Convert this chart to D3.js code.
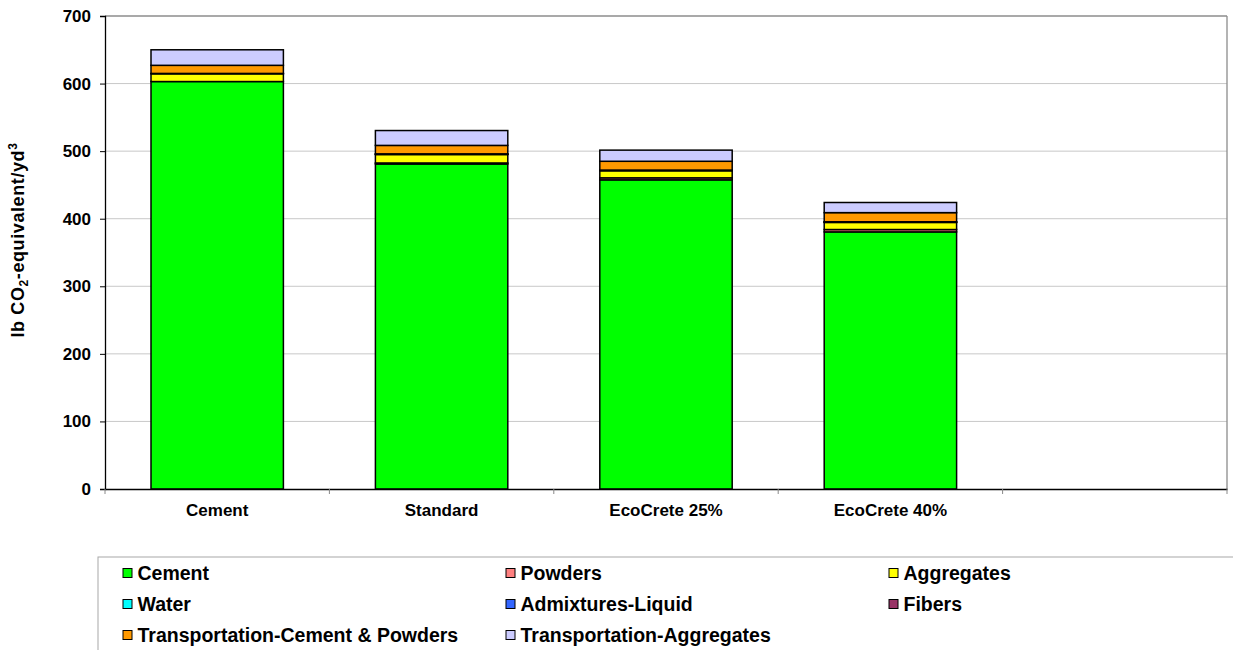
<!DOCTYPE html>
<html>
<head>
<meta charset="utf-8">
<script src="https://cdn.jsdelivr.net/npm/d3@7"></script>
<style>
  html, body { margin: 0; padding: 0; background: #fff; }
  svg { display: block; font-family: "Liberation Sans", Arial, sans-serif; font-weight: bold; }
</style>
</head>
<body>
<svg id="chart" width="1233" height="650"></svg>
<script>
// ---- data ----
const categories = ["Cement", "Standard", "EcoCrete 25%", "EcoCrete 40%", " "];
const seriesNames = ["Cement", "Powders", "Aggregates", "Water", "Admixtures-Liquid", "Fibers",
                     "Transportation-Cement & Powders", "Transportation-Aggregates"];
const seriesColors = ["#00FF00", "#FF8080", "#FFFF00", "#00FFFF", "#3366FF", "#993366", "#FF9900", "#CCCCFF"];
const cementVals      = [603, 481, 457.5, 380.5];
const powdersVals     = [0, 1.5, 3, 3.5];
const aggregatesVals  = [11.5, 12.5, 10.5, 10.5];
const waterVals       = [0.5, 0.5, 0.5, 0.5];
const admixturesVals  = [0, 0.5, 0.5, 0.5];
const fibersVals      = [0, 0, 0, 0];
const transCementVals = [12, 12.5, 13, 13.5];
const transAggVals    = [23, 22, 16.5, 15];
const yTicks = [0, 100, 200, 300, 400, 500, 600, 700];

const seriesValues = [cementVals, powdersVals, aggregatesVals, waterVals, admixturesVals,
                      fibersVals, transCementVals, transAggVals];

(function () {
// build table for stacking
const table = categories.slice(0, 4).map((c, i) => {
  const row = { cat: c };
  seriesNames.forEach((s, j) => row[s] = seriesValues[j][i]);
  return row;
});

// ---- layout ----
const svg = d3.select("#chart");
const pLeft = 105, pRight = 1227, pTop = 16, pBottom = 489;

const x = d3.scaleBand().domain(categories).range([pLeft, pRight]).paddingInner(0).paddingOuter(0);
const y = d3.scaleLinear().domain([0, 700]).range([pBottom, pTop]);
const barW = x.bandwidth() * 0.59;

// gridlines
svg.append("g").selectAll("line").data(yTicks.slice(1, -1)).join("line")
  .attr("x1", pLeft).attr("x2", pRight)
  .attr("y1", d => y(d)).attr("y2", d => y(d))
  .attr("stroke", "#c8c8c8").attr("stroke-width", 1);

// plot border (top, right gray)
svg.append("line").attr("x1", pLeft).attr("x2", pRight).attr("y1", y(700)).attr("y2", y(700))
  .attr("stroke", "#8c8c8c").attr("stroke-width", 1.3);
svg.append("line").attr("x1", pRight).attr("x2", pRight).attr("y1", y(700)).attr("y2", pBottom)
  .attr("stroke", "#8c8c8c").attr("stroke-width", 1.3);

// stacked bars
const stack = d3.stack().keys(seriesNames);
const stacked = stack(table);
const gBars = svg.append("g");
stacked.forEach((layer, j) => {
  gBars.append("g").selectAll("rect").data(layer).join("rect")
    .attr("x", d => x(d.data.cat) + (x.bandwidth() - barW) / 2)
    .attr("width", barW)
    .attr("y", d => y(d[1]))
    .attr("height", d => Math.max(0, y(d[0]) - y(d[1])))
    .attr("fill", seriesColors[j])
    .attr("stroke", "#000")
    .attr("stroke-width", 1.5);
});

// y axis
const yAxis = d3.axisLeft(y).tickValues(yTicks).tickSize(5).tickPadding(9);
const gy = svg.append("g").attr("transform", `translate(${pLeft},0)`).call(yAxis);
gy.select(".domain").attr("stroke", "#000").attr("stroke-width", 1.3);
gy.selectAll(".tick line").attr("stroke", "#000");
gy.selectAll(".tick text").attr("font-size", 17).attr("font-weight", "bold")
  .attr("font-family", "Liberation Sans, Arial, sans-serif").attr("fill", "#000");

// x axis
const xAxis = d3.axisBottom(x).tickSize(0).tickPadding(0);
const gx = svg.append("g").attr("transform", `translate(0,${pBottom})`).call(xAxis);
gx.select(".domain").attr("stroke", "#000").attr("stroke-width", 1.3);
gx.selectAll(".tick text").attr("font-size", 17).attr("font-weight", "bold")
  .attr("font-family", "Liberation Sans, Arial, sans-serif").attr("fill", "#000")
  .attr("dy", null).attr("y", 27);
// category boundary ticks
const bounds = categories.map(c => x(c)).concat([pRight]);
gx.selectAll(".bound").data(bounds).join("line").attr("class", "bound")
  .attr("x1", d => d).attr("x2", d => d).attr("y1", 0).attr("y2", 5)
  .attr("stroke", "#888").attr("stroke-width", 1);

// y title
const title = svg.append("text")
  .attr("transform", `translate(24,240) rotate(-90)`)
  .attr("text-anchor", "middle").attr("font-size", 18).attr("font-weight", "bold")
  .attr("letter-spacing", 0.6);
title.append("tspan").text("lb CO");
title.append("tspan").text("2").attr("font-size", 12).attr("dy", 4);
title.append("tspan").text("-equivalent/yd").attr("dy", -4);
title.append("tspan").text("3").attr("font-size", 12).attr("dy", -7);

// legend
svg.append("rect").attr("x", 98).attr("y", 557).attr("width", 1300).attr("height", 200)
  .attr("fill", "none").attr("stroke", "#a8a8a8").attr("stroke-width", 1);
const legCols = [123, 506, 889];
const legRows = [573, 604, 635];
const gLeg = svg.append("g");
seriesNames.forEach((s, i) => {
  const cx = legCols[i % 3], cy = legRows[Math.floor(i / 3)];
  gLeg.append("rect").attr("x", cx).attr("y", cy - 4.5).attr("width", 9).attr("height", 9)
    .attr("fill", seriesColors[i]).attr("stroke", "#000").attr("stroke-width", 1);
  gLeg.append("text").attr("x", cx + 14.5).attr("y", cy).attr("dy", "0.36em")
    .attr("font-size", 19.5).attr("font-weight", "bold").text(s);
});
})();
</script>
</body>
</html>
